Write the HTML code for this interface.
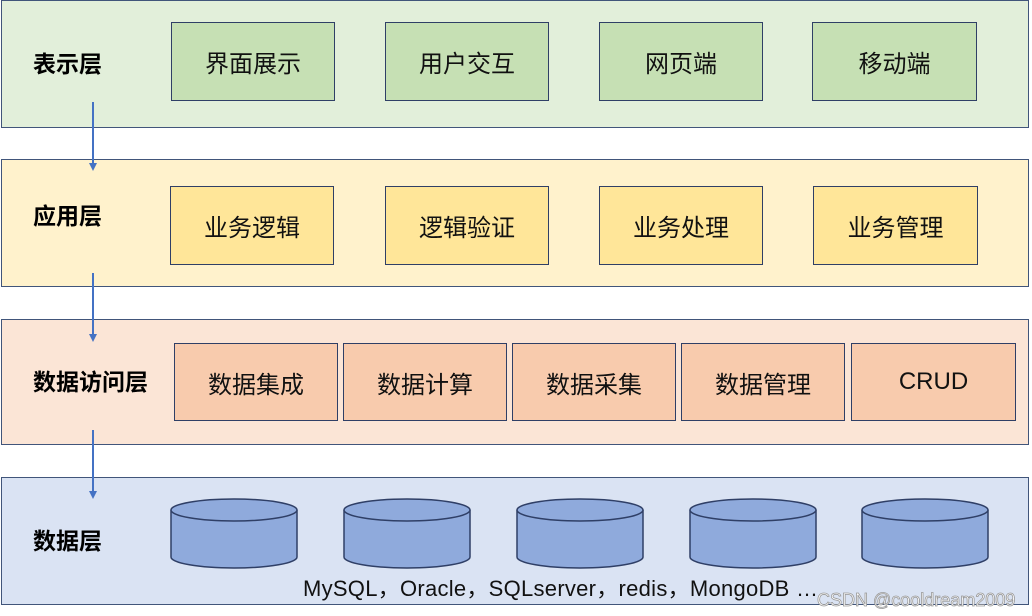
<!DOCTYPE html>
<html><head><meta charset="utf-8"><style>
body{margin:0;width:1032px;height:616px;background:#fff;position:relative;overflow:hidden;font-family:"Liberation Sans","Noto Sans CJK SC",sans-serif}
.l{position:absolute;left:1px;width:1028px;border:1.5px solid #41557a;box-sizing:border-box}
.lab{position:absolute;left:33px;font-size:23px;font-weight:bold;color:#000;line-height:28px}
.b{position:absolute;border:1.5px solid #2f3f66;box-sizing:border-box;display:flex;align-items:center;justify-content:center;font-size:24px;color:#111}
.g{background:#c6e0b4}.y{background:#ffe699}.o{background:#f8cbad}
</style></head><body>
<div class="l" style="top:0;height:128px;background:#e2efda"></div>
<div class="l" style="top:159px;height:128px;background:#fff2cc"></div>
<div class="l" style="top:319px;height:126px;background:#fbe5d6"></div>
<div class="l" style="top:477px;height:128px;background:#dae3f3"></div>
<div class="lab" style="top:50px">表示层</div>
<div class="lab" style="top:202px">应用层</div>
<div class="lab" style="top:368px">数据访问层</div>
<div class="lab" style="top:527px">数据层</div>
<div class="b g" style="left:171px;top:22px;width:164px;height:79px">界面展示</div>
<div class="b g" style="left:385px;top:22px;width:164px;height:79px">用户交互</div>
<div class="b g" style="left:599px;top:22px;width:164px;height:79px">网页端</div>
<div class="b g" style="left:812px;top:22px;width:165px;height:79px">移动端</div>
<div class="b y" style="left:170px;top:186px;width:164px;height:79px">业务逻辑</div>
<div class="b y" style="left:385px;top:186px;width:164px;height:79px">逻辑验证</div>
<div class="b y" style="left:599px;top:186px;width:164px;height:79px">业务处理</div>
<div class="b y" style="left:813px;top:186px;width:165px;height:79px">业务管理</div>
<div class="b o" style="left:174px;top:343px;width:164px;height:78px">数据集成</div>
<div class="b o" style="left:343px;top:343px;width:164px;height:78px">数据计算</div>
<div class="b o" style="left:512px;top:343px;width:164px;height:78px">数据采集</div>
<div class="b o" style="left:681px;top:343px;width:164px;height:78px">数据管理</div>
<div class="b o" style="left:851px;top:343px;width:165px;height:78px">CRUD</div>
<svg width="1032" height="616" style="position:absolute;left:0;top:0">
<defs><marker id="a" markerWidth="8" markerHeight="8" refX="4" refY="4" orient="auto" markerUnits="userSpaceOnUse"><path d="M0,0L8,4L0,8z" fill="#4472c4"/></marker></defs>
<g stroke="#4472c4" stroke-width="2" marker-end="url(#a)">
<line x1="93" y1="102" x2="93" y2="167"/><line x1="93" y1="273" x2="93" y2="338"/><line x1="93" y1="430" x2="93" y2="495"/></g>
<g fill="#8faadc" stroke="#2f3f66" stroke-width="1.5">
<g transform="translate(234,0)"><path d="M-63,510V557A63,11 0 0 0 63,557V510"/><ellipse cx="0" cy="510" rx="63" ry="11"/></g>
<g transform="translate(407,0)"><path d="M-63,510V557A63,11 0 0 0 63,557V510"/><ellipse cx="0" cy="510" rx="63" ry="11"/></g>
<g transform="translate(580,0)"><path d="M-63,510V557A63,11 0 0 0 63,557V510"/><ellipse cx="0" cy="510" rx="63" ry="11"/></g>
<g transform="translate(753,0)"><path d="M-63,510V557A63,11 0 0 0 63,557V510"/><ellipse cx="0" cy="510" rx="63" ry="11"/></g>
<g transform="translate(925,0)"><path d="M-63,510V557A63,11 0 0 0 63,557V510"/><ellipse cx="0" cy="510" rx="63" ry="11"/></g>
</g>
<text x="303" y="596" font-size="22" fill="#111" textLength="515" font-family="Liberation Sans,Noto Sans CJK SC,sans-serif">MySQL，Oracle，SQLserver，redis，MongoDB …</text>
<text x="817" y="606" font-size="18" fill="#fff" stroke="#999" stroke-width="0.8" font-family="Liberation Sans,sans-serif">CSDN @cooldream2009</text>
</svg>
</body></html>
